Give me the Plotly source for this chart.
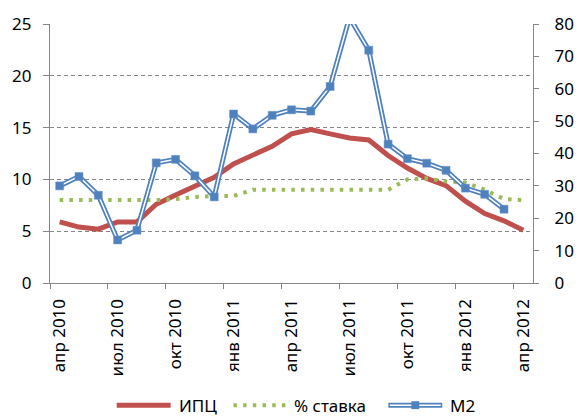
import plotly.graph_objects as go

months = ["апр 2010", "май 2010", "июн 2010", "июл 2010", "авг 2010", "сен 2010",
          "окт 2010", "ноя 2010", "дек 2010", "янв 2011", "фев 2011", "мар 2011",
          "апр 2011", "май 2011", "июн 2011", "июл 2011", "авг 2011", "сен 2011",
          "окт 2011", "ноя 2011", "дек 2011", "янв 2012", "фев 2012", "мар 2012",
          "апр 2012"]

cpi = [5.9, 5.4, 5.2, 5.9, 5.9, 7.6, 8.5, 9.3, 10.2, 11.5, 12.3, 13.2, 14.4,
       14.8, 14.4, 14.0, 13.8, 12.3, 11.1, 10.1, 9.4, 7.9, 6.7, 6.0, 5.1]

rate = [8.0, 8.0, 8.0, 8.0, 8.0, 8.0, 8.1, 8.3, 8.4, 8.4, 9.0, 9.0, 9.0,
        9.0, 9.0, 9.0, 9.0, 9.0, 10.0, 10.1, 9.8, 9.7, 9.0, 8.1, 8.0]

m2 = [30.0, 32.9, 27.1, 13.3, 16.3, 37.1, 38.2, 33.1, 26.6, 52.2, 47.6, 51.8,
      53.5, 53.1, 60.7, 82.0, 71.9, 42.9, 38.4, 37.0, 34.8, 29.3, 27.4, 22.8, None]

left_ticks = [0, 5, 10, 15, 20, 25]
right_ticks = [0, 10, 20, 30, 40, 50, 60, 70, 80]

RED = "#C0504D"
GREEN = "#9BBB59"
BLUE = "#4F81BD"
GRAY = "#868686"
FONT = "Noto Sans"

fig = go.Figure()
fig.add_trace(go.Scatter(x=months, y=cpi, mode="lines", name="ИПЦ",
                         line=dict(color=RED, width=5), showlegend=False))
fig.add_trace(go.Scatter(x=months, y=rate, mode="lines", name="% ставка",
                         line=dict(color=GREEN, width=4, dash="3.5px,6.2px"),
                         showlegend=False))
fig.add_trace(go.Scatter(x=months, y=m2, mode="lines", name="М2", yaxis="y2",
                         line=dict(color=BLUE, width=5), showlegend=False))
fig.add_trace(go.Scatter(x=months, y=m2, mode="lines", yaxis="y2",
                         line=dict(color="white", width=1.5), showlegend=False,
                         hoverinfo="skip"))
fig.add_trace(go.Scatter(x=months, y=m2, mode="markers", yaxis="y2",
                         marker=dict(symbol="square", size=8, color=BLUE,
                                     line=dict(color="#6a95cc", width=0.5)),
                         showlegend=False, hoverinfo="skip"))

fig.update_layout(
    width=586, height=419,
    margin=dict(l=50, r=43.5, t=20, b=135.7, pad=0),
    paper_bgcolor="white", plot_bgcolor="white",
    font=dict(family=FONT, size=17, color="#000000"),
    xaxis=dict(type="category", categoryorder="array", categoryarray=months,
               tickmode="linear", tick0=0, dtick=3, tickson="boundaries",
               tickangle=-90, ticks="outside", ticklen=5, tickcolor=GRAY,
               showline=True, linecolor=GRAY, linewidth=1.3, showgrid=False,
               range=[-0.5, 24.5], ticklabelstandoff=8),
    yaxis=dict(range=[0, 25], tickvals=left_ticks, ticks="outside", ticklen=6,
               tickcolor=GRAY, showline=True, linecolor=GRAY, linewidth=1.3,
               showgrid=True, gridcolor=GRAY, griddash="4px,3px", gridwidth=1,
               zeroline=False, ticklabelstandoff=8),
    yaxis2=dict(range=[0, 80], tickvals=right_ticks, overlaying="y", side="right",
                ticks="outside", ticklen=5, tickcolor=GRAY, showline=True,
                linecolor=GRAY, linewidth=1.3, showgrid=False, zeroline=False,
                ticklabelstandoff=12),
)

# Manual legend (layout elements in paper coordinates)
def px_x(px):
    return (px - 50) / 492.5

def px_y(py):
    return (283.3 - py) / 263.3

ly = px_y(407.5)
shapes = [
    dict(type="line", xref="paper", yref="paper", x0=px_x(118), x1=px_x(173),
         y0=ly, y1=ly, line=dict(color=RED, width=5)),
    dict(type="line", xref="paper", yref="paper", x0=px_x(237), x1=px_x(291),
         y0=ly, y1=ly, line=dict(color=GREEN, width=4, dash="3.5px,6.2px")),
    dict(type="line", xref="paper", yref="paper", x0=px_x(395), x1=px_x(450),
         y0=ly, y1=ly, line=dict(color=BLUE, width=5)),
    dict(type="line", xref="paper", yref="paper", x0=px_x(396.5), x1=px_x(448.5),
         y0=ly, y1=ly, line=dict(color="white", width=1.5)),
    dict(type="rect", xref="paper", yref="paper", x0=px_x(418.5), x1=px_x(426.5),
         y0=px_y(411.5), y1=px_y(403.5), fillcolor=BLUE, line=dict(width=0)),
]
annotations = [
    dict(text="ИПЦ", x=px_x(179), y=ly, xref="paper", yref="paper",
         xanchor="left", yanchor="middle", showarrow=False),
    dict(text="% ставка", x=px_x(297), y=ly, xref="paper", yref="paper",
         xanchor="left", yanchor="middle", showarrow=False),
    dict(text="М2", x=px_x(456), y=ly, xref="paper", yref="paper",
         xanchor="left", yanchor="middle", showarrow=False),
]
fig.update_layout(shapes=shapes, annotations=annotations)

fig.write_html("out.html",
               config={"displayModeBar": False},
               post_script="document.body.style.margin='0';"
                           "document.body.style.overflow='hidden';")
